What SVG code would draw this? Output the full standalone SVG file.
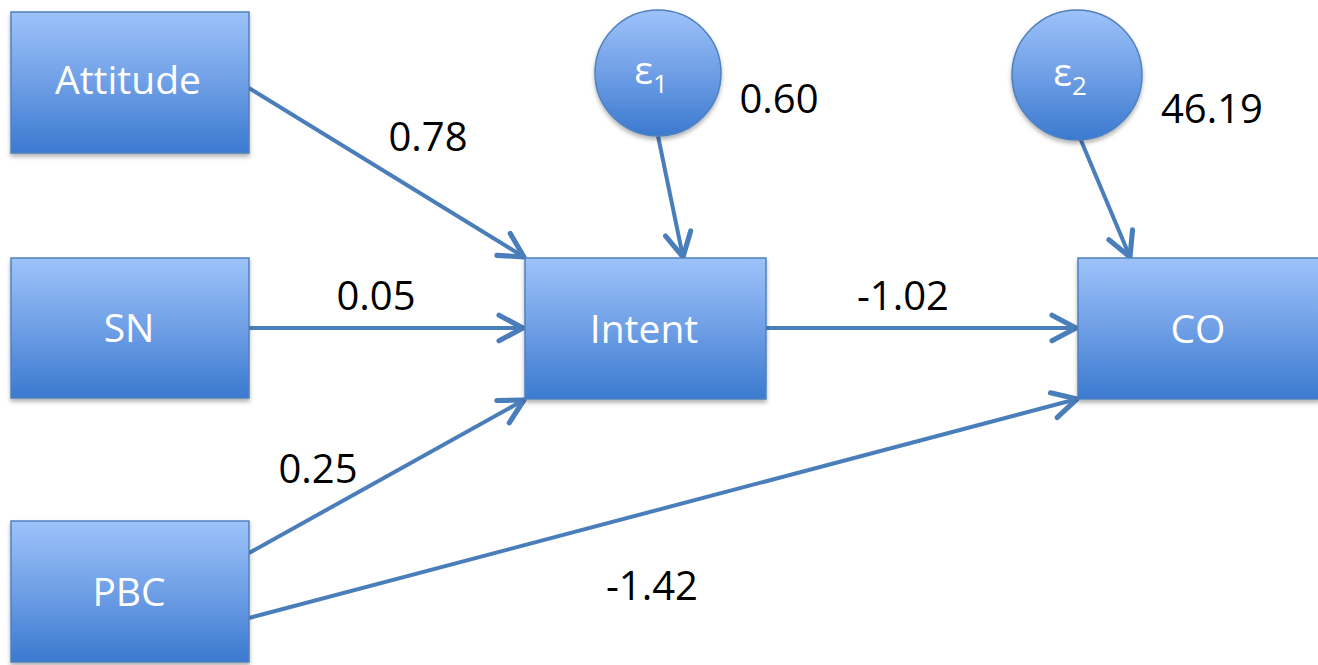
<svg xmlns="http://www.w3.org/2000/svg" width="1318" height="665" viewBox="0 0 1318 665">
<style>
.box{fill:url(#g);stroke:#4f81bd;stroke-width:1.5;filter:url(#sh)}
.nt{font-family:"Open Sans","Liberation Sans",sans-serif;font-size:39px;fill:#ffffff;text-anchor:middle}
.lb{font-family:"Open Sans","Liberation Sans",sans-serif;font-size:40px;fill:#000000;text-anchor:middle}
.cn{fill:none;stroke:#4a7ebb;stroke-width:4;marker-end:url(#ah)}
</style>
<defs>
<linearGradient id="g" x1="0" y1="0" x2="0" y2="1">
<stop offset="0" stop-color="#9ec2fa"/>
<stop offset="0.5" stop-color="#6f9fe6"/>
<stop offset="1" stop-color="#3b79cf"/>
</linearGradient>
<filter id="sh" x="-10%" y="-10%" width="120%" height="130%">
<feDropShadow dx="0" dy="3" stdDeviation="2" flood-color="#000" flood-opacity="0.3"/>
</filter>
<marker id="ah" viewBox="0 0 20 20" refX="18" refY="10" markerWidth="8" markerHeight="8" markerUnits="strokeWidth" orient="auto">
<path d="M3,2 L18,10 L3,18" fill="none" stroke="#4a7ebb" stroke-width="3.2" stroke-linecap="round" stroke-linejoin="round"/>
</marker>
</defs>
<g id="connectors">
<line class="cn" x1="249" y1="88" x2="524" y2="257"/>
<line class="cn" x1="249" y1="328" x2="523" y2="328"/>
<line class="cn" x1="249" y1="553" x2="524" y2="400"/>
<line class="cn" x1="249" y1="618" x2="1077" y2="399"/>
<line class="cn" x1="766" y1="328" x2="1076" y2="328"/>
<line class="cn" x1="658" y1="136" x2="683" y2="257"/>
<line class="cn" x1="1080" y1="138" x2="1130" y2="257"/>
</g>
<g id="attitude"><rect class="box" x="11" y="12" width="238" height="141"/><text class="nt" x="128" y="94">Attitude</text></g>
<g id="sn"><rect class="box" x="11" y="258" width="238" height="140"/><text class="nt" x="129" y="342">SN</text></g>
<g id="pbc"><rect class="box" x="11" y="521" width="238" height="141"/><text class="nt" x="129" y="606">PBC</text></g>
<g id="intent"><rect class="box" x="525" y="258" width="241" height="141"/><text class="nt" x="644" y="343">Intent</text></g>
<g id="co"><rect class="box" x="1078" y="258" width="242" height="141"/><text class="nt" x="1198" y="343">CO</text></g>
<g id="e1"><circle class="box" cx="658" cy="73" r="63"/><text class="nt" x="651" y="84">ε<tspan font-size="26" dy="9">1</tspan></text></g>
<g id="e2"><circle class="box" cx="1077" cy="75" r="65"/><text class="nt" x="1070" y="86">ε<tspan font-size="26" dy="9">2</tspan></text></g>
<g id="labels">
<text class="lb" x="428" y="151">0.78</text>
<text class="lb" x="779" y="113">0.60</text>
<text class="lb" x="1212" y="123">46.19</text>
<text class="lb" x="376" y="310">0.05</text>
<text class="lb" x="903" y="310">-1.02</text>
<text class="lb" x="318" y="483">0.25</text>
<text class="lb" x="652" y="600">-1.42</text>
</g>
</svg>
